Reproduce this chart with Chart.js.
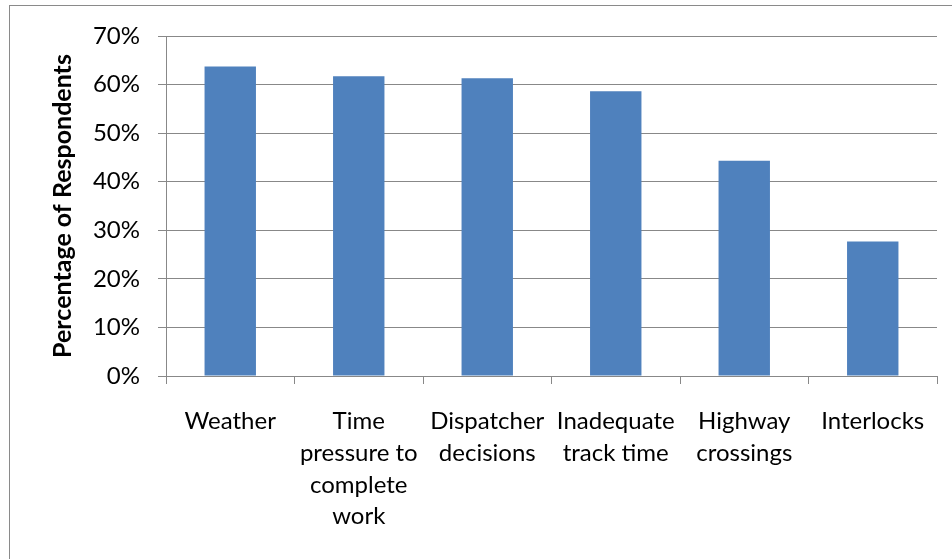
<!DOCTYPE html>
<html>
<head>
<meta charset="utf-8">
<script src="https://cdn.jsdelivr.net/npm/chart.js@4.4.1/dist/chart.umd.min.js"></script>
<style>
  html, body { margin: 0; padding: 0; background: #fff; }
  #wrap { position: relative; width: 952px; height: 559px; overflow: hidden; }
  #frame { position: absolute; left: 9px; top: 5px; width: 1000px; height: 600px; border: 1px solid #8a8a8a; box-sizing: border-box; }
  canvas { position: absolute; left: 0; top: 0; }
</style>
</head>
<body>
<div id="wrap">
  <div id="frame"></div>
  <canvas id="c" width="952" height="559"></canvas>
</div>
<script>
const categories = [
  ["Weather"],
  ["Time", "pressure to", "complete", "work"],
  ["Dispatcher", "decisions"],
  ["Inadequate", "track time"],
  ["Highway", "crossings"],
  ["Interlocks"]
];
const values = [63.7, 61.7, 61.3, 58.6, 44.3, 27.7];
const yTicks = [0, 10, 20, 30, 40, 50, 60, 70];
const yTitle = "Percentage of Respondents";

const FONT = "Lato, 'Liberation Sans', sans-serif";
const GRID = "#888888";

new Chart(document.getElementById("c"), {
  type: "bar",
  data: {
    labels: categories,
    datasets: [{
      data: values,
      backgroundColor: "#4F81BD",
      borderWidth: 0,
      categoryPercentage: 1.0,
      barPercentage: 0.4
    }]
  },
  options: {
    responsive: false,
    animation: false,
    layout: { padding: { left: 0, top: 36, right: 15, bottom: 0 } },
    plugins: { legend: { display: false }, tooltip: { enabled: false } },
    scales: {
      x: {
        grid: { display: true, drawOnChartArea: false, drawTicks: true, tickLength: 8, color: GRID, offset: true },
        border: { display: true, color: GRID, width: 1 },
        ticks: { color: "#000", font: { family: FONT, size: 24, lineHeight: 1.33 }, padding: 21, maxRotation: 0, autoSkip: false },
        afterFit: (s) => { s.height = 183; }
      },
      y: {
        min: 0, max: 70,
        afterBuildTicks: (s) => { s.ticks = yTicks.map(v => ({ value: v })); },
        grid: { color: GRID, lineWidth: 1, tickLength: 8, drawTicks: true },
        border: { display: true, color: GRID, width: 1 },
        ticks: { color: "#000", font: { family: FONT, size: 24 }, padding: 18, callback: (v) => v + "%" },
        title: { display: true, text: yTitle, color: "#000", font: { family: FONT, size: 25, weight: "bold" }, padding: { top: 48, bottom: 0 } },
        afterFit: (s) => { s.width = 166; }
      }
    }
  }
});
</script>
</body>
</html>
